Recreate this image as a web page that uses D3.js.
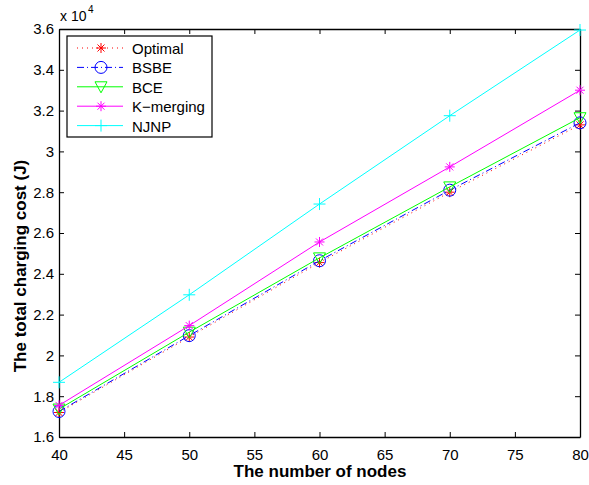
<!DOCTYPE html>
<html lang="en">
<head>
<meta charset="utf-8">
<title>Total charging cost</title>
<script src="https://d3js.org/d3.v7.min.js"></script>
<style>
  body { margin: 0; background: #fff; }
  text { font-family: "Liberation Sans", Arial, sans-serif; }
</style>
</head>
<body>
<script>
// number of nodes
var nodes = [40, 50, 60, 70, 80];

// total charging cost, in units of 1e4 J
var optimal  = [1.72, 2.09, 2.455, 2.80, 3.13];
var bsbe     = [1.725, 2.097, 2.464, 2.81, 3.14];
var bce      = [1.737, 2.114, 2.478, 2.826, 3.165];
var kmerging = [1.755, 2.146, 2.556, 2.924, 3.30];
var njnp     = [1.868, 2.297, 2.742, 3.175, 3.595];

var seriesNames = ["Optimal", "BSBE", "BCE", "K\u2212merging", "NJNP"];

var xTicks = [40, 45, 50, 55, 60, 65, 70, 75, 80];
var yTicks = [1.6, 1.8, 2, 2.2, 2.4, 2.6, 2.8, 3, 3.2, 3.4, 3.6];

var w = 589, h = 485;
var plotL = 59, plotR = 580, plotT = 29, plotB = 437;

var series = [
  {name: seriesNames[0], values: optimal,  color: "#ff0000", dash: "1,4",   marker: "star"},
  {name: seriesNames[1], values: bsbe,     color: "#0000ff", dash: "7,3,1,3", marker: "circle"},
  {name: seriesNames[2], values: bce,      color: "#00ff00", dash: null,    marker: "tri"},
  {name: seriesNames[3], values: kmerging, color: "#ff00ff", dash: null,    marker: "star"},
  {name: seriesNames[4], values: njnp,     color: "#00ffff", dash: null,    marker: "plus"}
];

var xScale = d3.scaleLinear().domain([40, 80]).range([plotL, plotR]);
var yScale = d3.scaleLinear().domain([1.6, 3.6]).range([plotB, plotT]);

var svg = d3.select("body").append("svg").attr("width", w).attr("height", h);

// plot box
svg.append("rect")
  .attr("x", plotL).attr("y", plotT)
  .attr("width", plotR - plotL).attr("height", plotB - plotT)
  .attr("fill", "#fff");

// axes, ticks pointing inward
var fmt = function(d) { return String(+d.toFixed(1)); };
var xAxis = svg.append("g").attr("transform", "translate(0," + plotB + ")")
  .call(d3.axisBottom(xScale).tickValues(xTicks).tickSizeInner(-5).tickSizeOuter(0).tickPadding(12));
var xAxisTop = svg.append("g").attr("transform", "translate(0," + plotT + ")")
  .call(d3.axisTop(xScale).tickValues(xTicks).tickSizeInner(-5).tickSizeOuter(0).tickFormat(""));
var yAxis = svg.append("g").attr("transform", "translate(" + plotL + ",0)")
  .call(d3.axisLeft(yScale).tickValues(yTicks).tickSizeInner(-5).tickSizeOuter(0).tickPadding(5).tickFormat(fmt));
var yAxisRight = svg.append("g").attr("transform", "translate(" + plotR + ",0)")
  .call(d3.axisRight(yScale).tickValues(yTicks).tickSizeInner(-5).tickSizeOuter(0).tickFormat(""));

[xAxis, xAxisTop, yAxis, yAxisRight].forEach(function(g) {
  g.select(".domain").attr("stroke", "#000").attr("stroke-width", 1.3);
  g.selectAll(".tick line").attr("stroke", "#000");
  g.selectAll("text").attr("font-size", 15).attr("fill", "#000")
    .style("font-family", "'Liberation Sans', Arial, sans-serif");
});
xAxis.selectAll("text").attr("dy", "0.71em");

// exponent
svg.append("text").attr("x", plotL + 1).attr("y", 21)
  .attr("font-size", 14).text("x 10");
svg.append("text").attr("x", plotL + 29).attr("y", 13)
  .attr("font-size", 10).text("4");

// axis labels
svg.append("text")
  .attr("x", 320).attr("y", 477)
  .attr("text-anchor", "middle").attr("font-size", 17).attr("font-weight", "bold")
  .text("The number of nodes");
svg.append("text")
  .attr("transform", "translate(26,266) rotate(-90)")
  .attr("text-anchor", "middle").attr("font-size", 17).attr("font-weight", "bold")
  .text("The total charging cost (J)");

// marker drawing
function drawMarker(g, type, color) {
  if (type === "star") {
    var s = 5;
    g.append("path").attr("d",
      "M" + (-s) + ",0H" + s + "M0," + (-s) + "V" + s +
      "M" + (-s * 0.7) + "," + (-s * 0.7) + "L" + (s * 0.7) + "," + (s * 0.7) +
      "M" + (-s * 0.7) + "," + (s * 0.7) + "L" + (s * 0.7) + "," + (-s * 0.7))
      .attr("stroke", color).attr("stroke-width", 1).attr("fill", "none");
  } else if (type === "plus") {
    var p = 6;
    g.append("path").attr("d", "M" + (-p) + ",0H" + p + "M0," + (-p) + "V" + p)
      .attr("stroke", color).attr("stroke-width", 1).attr("fill", "none");
  } else if (type === "circle") {
    g.append("circle").attr("r", 6)
      .attr("stroke", color).attr("stroke-width", 1).attr("fill", "none");
  } else if (type === "tri") {
    g.append("path").attr("d", "M-6,-5L6,-5L0,6Z")
      .attr("stroke", color).attr("stroke-width", 1).attr("fill", "none");
  }
}

var line = d3.line()
  .x(function(d, i) { return xScale(nodes[i]); })
  .y(function(d) { return yScale(d); });

series.forEach(function(s) {
  svg.append("path")
    .datum(s.values)
    .attr("d", line)
    .attr("fill", "none")
    .attr("stroke", s.color)
    .attr("stroke-width", 1)
    .attr("stroke-dasharray", s.dash);
  s.values.forEach(function(v, i) {
    var g = svg.append("g")
      .attr("transform", "translate(" + xScale(nodes[i]) + "," + yScale(v) + ")");
    drawMarker(g, s.marker, s.color);
  });
});

// legend
var lx = 67, ly = 36, lw = 145, lh = 101;
svg.append("rect").attr("x", lx).attr("y", ly).attr("width", lw).attr("height", lh)
  .attr("fill", "#fff").attr("stroke", "#000").attr("stroke-width", 1.2);

series.forEach(function(s, i) {
  var y = 48 + i * 19.4;
  svg.append("line")
    .attr("x1", 77).attr("x2", 123).attr("y1", y).attr("y2", y)
    .attr("stroke", s.color).attr("stroke-width", 1)
    .attr("stroke-dasharray", s.dash);
  var g = svg.append("g").attr("transform", "translate(101," + y + ")");
  drawMarker(g, s.marker, s.color);
  svg.append("text").attr("x", 132).attr("y", y + 6)
    .attr("font-size", 15).text(s.name);
});
</script>
</body>
</html>
